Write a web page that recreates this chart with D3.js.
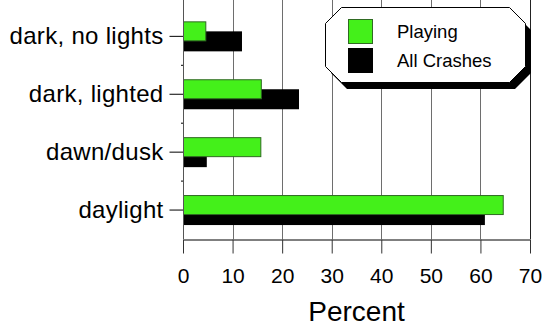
<!DOCTYPE html>
<html>
<head>
<meta charset="utf-8">
<script src="https://cdn.jsdelivr.net/npm/d3@7"></script>
<style>
  html, body { margin: 0; padding: 0; background: #fff; }
  svg { display: block; font-family: "Liberation Sans", Arial, Helvetica, sans-serif; }
  .axis text { fill: #000; }
</style>
</head>
<body>
<div id="chart"></div>
<script>
(function () {
  "use strict";

  // Data
  const categories = ["dark, no lights", "dark, lighted", "dawn/dusk", "daylight"];
  const playing    = [4.5, 15.7, 15.6, 64.5];
  const allCrashes = [11.9, 23.4, 4.8, 60.9];
  const xTicks     = [0, 10, 20, 30, 40, 50, 60, 70];
  const seriesNames = ["Playing", "All Crashes"];

  const GREEN = "#44f01a";
  const GREEN_EDGE = "#2f6a22";

  // Dimensions
  const totalW = 547, totalH = 326;
  const margin = { top: 0, left: 183 };
  const width  = 347;
  const height = 239;

  const x = d3.scaleLinear().domain([0, 70]).range([0, width]);
  const bandH = 57.9;
  const y = d3.scaleBand()
    .domain(categories)
    .range([height - bandH * categories.length, height])
    .padding(0);

  const svg = d3.select("#chart").append("svg")
    .attr("width", totalW)
    .attr("height", totalH);

  const g = svg.append("g")
    .attr("transform", `translate(${margin.left},${margin.top})`);

  // Vertical grid lines
  g.append("g")
    .selectAll("line")
    .data(xTicks.slice(1))
    .join("line")
    .attr("x1", d => Math.round(x(d)) + 0.5)
    .attr("x2", d => Math.round(x(d)) + 0.5)
    .attr("y1", 0)
    .attr("y2", height)
    .attr("stroke", d => d === 70 ? "#222" : "#6e6e6e")
    .attr("stroke-width", 1);

  // Bars: All Crashes under, Playing over
  const rows = categories.map((c, i) => ({ cat: c, play: playing[i], all: allCrashes[i] }));
  const mid = d => y(d.cat) + y.bandwidth() / 2;

  g.selectAll(".bar-all")
    .data(rows)
    .join("rect")
    .attr("class", "bar-all")
    .attr("x", x(0))
    .attr("y", d => mid(d) - 5)
    .attr("width", d => x(d.all) - x(0))
    .attr("height", 20)
    .attr("fill", "#000");

  g.selectAll(".bar-play")
    .data(rows)
    .join("rect")
    .attr("class", "bar-play")
    .attr("x", x(0) + 0.5)
    .attr("y", d => mid(d) - 14.5)
    .attr("width", d => x(d.play) - x(0))
    .attr("height", 19)
    .attr("fill", GREEN)
    .attr("stroke", GREEN_EDGE)
    .attr("stroke-width", 1);

  // X axis
  const xAxis = g.append("g")
    .attr("class", "axis")
    .attr("transform", `translate(0,${height + 0.5})`)
    .call(d3.axisBottom(x).tickValues(xTicks).tickSize(14).tickPadding(15).tickSizeOuter(0));
  xAxis.select(".domain").attr("stroke", "#000");
  xAxis.selectAll(".tick line").attr("stroke", "#333");
  xAxis.selectAll("text").attr("font-size", 21);

  // Y axis
  const yAxis = g.append("g")
    .attr("class", "axis")
    .attr("transform", "translate(0.5,0)")
    .call(d3.axisLeft(y).tickSize(14).tickPadding(6));
  yAxis.select(".domain").remove();
  yAxis.selectAll(".tick line").attr("stroke", "#000");
  yAxis.selectAll("text")
    .attr("font-size", 24)
    .attr("letter-spacing", 0.3);

  g.append("line")
    .attr("x1", 0.5).attr("x2", 0.5)
    .attr("y1", 0).attr("y2", height)
    .attr("stroke", "#555");

  // small separator marks between categories
  g.append("g")
    .selectAll("line")
    .data(categories.slice(1))
    .join("line")
    .attr("x1", -2).attr("x2", 0)
    .attr("y1", d => y(d)).attr("y2", d => y(d))
    .attr("stroke", "#000");

  // X axis label
  svg.append("text")
    .attr("x", margin.left + width / 2)
    .attr("y", 321)
    .attr("text-anchor", "middle")
    .attr("font-size", 28)
    .text("Percent");

  // Legend
  const lx = 325, ly = 7, lw = 200, lh = 75, cut = 16;
  const octo = [
    [lx + cut, ly], [lx + lw - cut, ly], [lx + lw, ly + cut], [lx + lw, ly + lh - cut],
    [lx + lw - cut, ly + lh], [lx + cut, ly + lh], [lx, ly + lh - cut], [lx, ly + cut]
  ];
  const legend = svg.append("g").attr("class", "legend");
  legend.append("polygon")
    .attr("points", octo.map(p => [p[0] + 6, p[1] + 7].join(",")).join(" "))
    .attr("fill", "#000");
  legend.append("polygon")
    .attr("points", octo.map(p => [p[0] + 0.5, p[1] + 0.5].join(",")).join(" "))
    .attr("fill", "#fff")
    .attr("stroke", "#000")
    .attr("stroke-width", 1);

  seriesNames.forEach((name, i) => {
    const item = legend.append("g")
      .attr("transform", `translate(348,${19 + i * 29})`);
    item.append("rect")
      .attr("x", 0.5).attr("y", 0.5)
      .attr("width", 24).attr("height", 24)
      .attr("fill", i === 0 ? GREEN : "#000")
      .attr("stroke", i === 0 ? GREEN_EDGE : "#000");
    item.append("text")
      .attr("x", 49)
      .attr("y", 12.5)
      .attr("dy", "0.35em")
      .attr("font-size", 18.5)
      .text(name);
  });
})();
</script>
</body>
</html>
